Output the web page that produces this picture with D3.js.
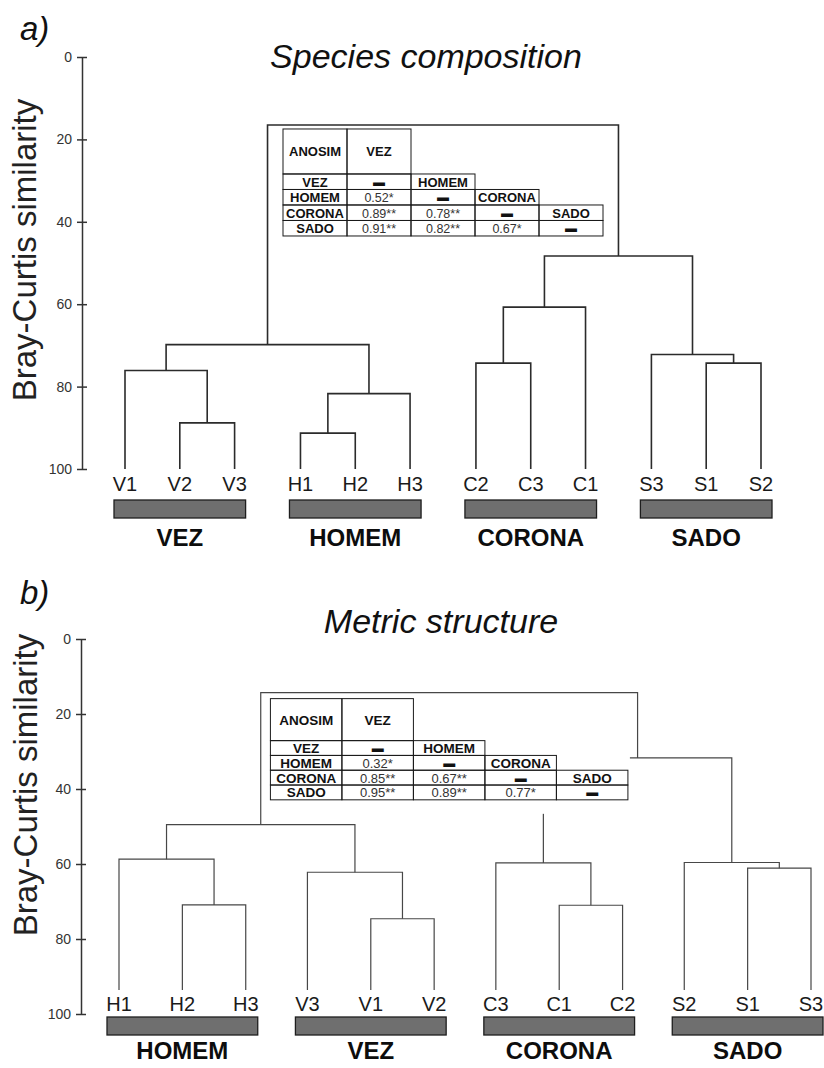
<!DOCTYPE html>
<html>
<head>
<meta charset="utf-8">
<script src="https://cdn.jsdelivr.net/npm/d3@7"></script>
<style>
  body { margin: 0; background: #fff; }
  svg text { font-family: "Liberation Sans", Arial, Helvetica, sans-serif; }
</style>
</head>
<body>
<svg id="fig" width="824" height="1068"></svg>
<script>
// ---------- data ----------
// Similarity axis ticks (Bray-Curtis similarity, %)
const simTicks = [0, 20, 40, 60, 80, 100];

// a) Species composition: leaf order, site groups and cluster merges
//    merge = [left child, right child, similarity]; a number refers to an earlier merge
const speciesLeaves = ["V1", "V2", "V3", "H1", "H2", "H3", "C2", "C3", "C1", "S3", "S1", "S2"];
const speciesGroups = ["VEZ", "HOMEM", "CORONA", "SADO"];
const speciesMerges = [
  ["V2", "V3", 88.8],   // 0
  ["V1", 0, 76.1],      // 1
  ["H1", "H2", 91.3],   // 2
  [2, "H3", 81.7],      // 3
  [1, 3, 69.8],         // 4
  ["C2", "C3", 74.3],   // 5
  [5, "C1", 60.7],      // 6
  ["S1", "S2", 74.3],   // 7
  ["S3", 7, 72.2],      // 8
  [6, 8, 48.3],         // 9
  [4, 9, 16.5]          // 10
];

// b) Metric structure
const metricLeaves = ["H1", "H2", "H3", "V3", "V1", "V2", "C3", "C1", "C2", "S2", "S1", "S3"];
const metricGroups = ["HOMEM", "VEZ", "CORONA", "SADO"];
const metricMerges = [
  ["H2", "H3", 70.9],   // 0
  ["H1", 0, 58.7],      // 1
  ["V1", "V2", 74.6],   // 2
  ["V3", 2, 62.2],      // 3
  [1, 3, 49.5],         // 4
  ["C1", "C2", 71.0],   // 5
  ["C3", 5, 59.7],      // 6
  ["S1", "S3", 61.1],   // 7
  ["S2", 7, 59.6],      // 8
  [6, 8, 31.7],         // 9
  [4, 9, 14.3]          // 10
];

// ANOSIM pairwise R (rows HOMEM, CORONA, SADO against earlier groups)
const anosimGroups = ["VEZ", "HOMEM", "CORONA", "SADO"];
const speciesR   = [[0.52], [0.89, 0.78], [0.91, 0.82, 0.67]];
const speciesSig = [["*"], ["**", "**"], ["**", "**", "*"]];
const metricR    = [[0.32], [0.85, 0.67], [0.95, 0.89, 0.77]];
const metricSig  = [["*"], ["**", "**"], ["**", "**", "*"]];

// ---------- layout ----------
const panels = [
  {
    tag: "a)", title: "Species composition",
    leaves: speciesLeaves, groups: speciesGroups, merges: speciesMerges,
    R: speciesR, sig: speciesSig,
    yRange: [57, 469], axisX: 82,
    bandRange: [114, 772], bandPad: 0.25, leafInset: 11,
    tagPos: [20, 40], titlePos: [426, 68], yLabelPos: [36, 250],
    leafLabelOffset: 22, stemGap: 22, barOffset: 31, barH: 18, groupLabelGap: 28,
    lineW: 1.6, lineColor: "#2b2b2b",
    table: { col: 64, head: 45, row: 15.5, top: 4, font: 13, valFont: 12.5, pad: [2, 2, 2, 2] }
  },
  {
    tag: "b)", title: "Metric structure",
    leaves: metricLeaves, groups: metricGroups, merges: metricMerges,
    R: metricR, sig: metricSig,
    yRange: [639, 1014], axisX: 81,
    bandRange: [107, 823], bandPad: 0.2, leafInset: 12,
    tagPos: [20, 604], titlePos: [441, 633], yLabelPos: [37, 785],
    leafLabelOffset: -3, stemGap: 21, barOffset: 3, barH: 18, groupLabelGap: 24,
    lineW: 1.2, lineColor: "#474747",
    table: { col: 71.5, head: 42, row: 14.8, top: 6, font: 13.5, valFont: 13, pad: [2, 2, 14, 4] }
  }
];

const svg = d3.select("#fig");

function drawPanel(p) {
  const g = svg.append("g");
  const y = d3.scaleLinear().domain([0, 100]).range(p.yRange);

  // panel tag and title
  g.append("text").attr("x", p.tagPos[0]).attr("y", p.tagPos[1])
    .attr("font-size", 33).attr("font-style", "italic").attr("fill", "#111").text(p.tag);
  g.append("text").attr("x", p.titlePos[0]).attr("y", p.titlePos[1])
    .attr("text-anchor", "middle").attr("font-size", 34).attr("font-style", "italic")
    .attr("fill", "#111").text(p.title);

  // similarity axis
  const axis = d3.axisLeft(y).tickValues(simTicks).tickSizeInner(5).tickSizeOuter(0).tickPadding(5);
  const ag = g.append("g").attr("transform", `translate(${p.axisX},0)`).call(axis);
  ag.select(".domain").attr("stroke", "#333").attr("stroke-width", 1.5);
  ag.selectAll(".tick line").attr("x1", 5).attr("stroke", "#333").attr("stroke-width", 1.5);
  ag.selectAll(".tick text").attr("font-size", 14).attr("fill", "#333")
    .attr("font-family", "Liberation Sans, Arial, sans-serif");

  g.append("text")
    .attr("transform", `translate(${p.yLabelPos[0]},${p.yLabelPos[1]}) rotate(-90)`)
    .attr("text-anchor", "middle").attr("font-size", 33).attr("fill", "#222")
    .text("Bray-Curtis similarity");

  // horizontal placement: one band per site group, one point per sample
  const band = d3.scaleBand().domain(p.groups).range(p.bandRange)
    .paddingInner(p.bandPad).paddingOuter(0);
  const leafX = new Map();
  p.groups.forEach(grp => {
    const members = p.leaves.filter(l => l[0] === grp[0]);
    const pt = d3.scalePoint().domain(members)
      .range([band(grp) + p.leafInset, band(grp) + band.bandwidth() - p.leafInset]);
    members.forEach(m => leafX.set(m, pt(m)));
  });

  const leafLabelY = y(100) + p.leafLabelOffset;
  const stemEnd = leafLabelY - p.stemGap;

  // build cluster nodes
  const nodes = [];
  const nodeOf = ref => typeof ref === "number" ? nodes[ref] : { x: leafX.get(ref), y: stemEnd };
  p.merges.forEach(([a, b, h]) => {
    const na = nodeOf(a), nb = nodeOf(b);
    nodes.push({ x: (na.x + nb.x) / 2, y: y(h), a: na, b: nb });
  });

  // dendrogram elbows
  g.append("g").selectAll("path").data(nodes).join("path")
    .attr("d", n => `M${n.a.x},${n.a.y}V${n.y}H${n.b.x}V${n.b.y}`)
    .attr("fill", "none").attr("stroke", p.lineColor).attr("stroke-width", p.lineW);

  // sample labels
  g.append("g").selectAll("text").data(p.leaves).join("text")
    .attr("x", d => leafX.get(d)).attr("y", leafLabelY)
    .attr("text-anchor", "middle").attr("font-size", 20).attr("fill", "#1a1a1a")
    .text(d => d);

  // group bars and names
  const barY = y(100) + p.barOffset;
  g.append("g").selectAll("rect").data(p.groups).join("rect")
    .attr("x", d => band(d)).attr("y", barY)
    .attr("width", band.bandwidth()).attr("height", p.barH)
    .attr("fill", "#6f6f6f").attr("stroke", "#1e1e1e").attr("stroke-width", 1.3);
  g.append("g").selectAll("text").data(p.groups).join("text")
    .attr("x", d => band(d) + band.bandwidth() / 2)
    .attr("y", barY + p.barH + p.groupLabelGap)
    .attr("text-anchor", "middle").attr("font-size", 24).attr("font-weight", "bold")
    .attr("fill", "#0d0d0d").text(d => d);

  // ANOSIM inset table, centred inside the top link
  const root = nodes[nodes.length - 1];
  const t = p.table;
  const tw = t.col * 5;
  const th = t.head + 4 * t.row;
  const tx = root.a.x + (root.b.x - root.a.x - tw) / 2;
  const ty = root.y + t.top;
  const tg = g.append("g");
  tg.append("rect")
    .attr("x", tx - t.pad[3]).attr("y", ty - t.pad[0])
    .attr("width", tw + t.pad[1] + t.pad[3]).attr("height", th + t.pad[0] + t.pad[2])
    .attr("fill", "#fff");

  const cells = [];
  cells.push({ c: 0, top: ty, h: t.head, text: "ANOSIM", kind: "head" });
  cells.push({ c: 1, top: ty, h: t.head, text: anosimGroups[0], kind: "head" });
  anosimGroups.forEach((name, i) => {
    const top = ty + t.head + i * t.row;
    cells.push({ c: 0, top, h: t.row, text: name, kind: "head" });
    for (let j = 1; j <= i; j++) {
      cells.push({ c: j, top, h: t.row,
        text: d3.format(".2f")(p.R[i - 1][j - 1]) + p.sig[i - 1][j - 1], kind: "val" });
    }
    cells.push({ c: i + 1, top, h: t.row, text: "\u25AC", kind: "dash" });
    if (i + 2 <= 4) cells.push({ c: i + 2, top, h: t.row, text: anosimGroups[i + 1], kind: "head" });
  });

  tg.selectAll("rect.cell").data(cells).join("rect").attr("class", "cell")
    .attr("x", d => tx + d.c * t.col).attr("y", d => d.top)
    .attr("width", t.col).attr("height", d => d.h)
    .attr("fill", "none").attr("stroke", "#1a1a1a").attr("stroke-width", 1);

  tg.selectAll("text").data(cells).join("text")
    .attr("x", d => tx + d.c * t.col + t.col / 2)
    .attr("y", d => d.top + d.h / 2 + (d.kind === "dash" ? 4 : 5))
    .attr("text-anchor", "middle")
    .attr("font-size", d => d.kind === "val" ? t.valFont : (d.kind === "dash" ? 12 : t.font))
    .attr("font-weight", d => d.kind === "head" ? "bold" : "normal")
    .attr("font-family", d => d.kind === "dash" ? "DejaVu Sans, sans-serif" : null)
    .attr("fill", d => d.kind === "val" ? "#333" : "#111")
    .text(d => d.text);
}

panels.forEach(drawPanel);
</script>
</body>
</html>
